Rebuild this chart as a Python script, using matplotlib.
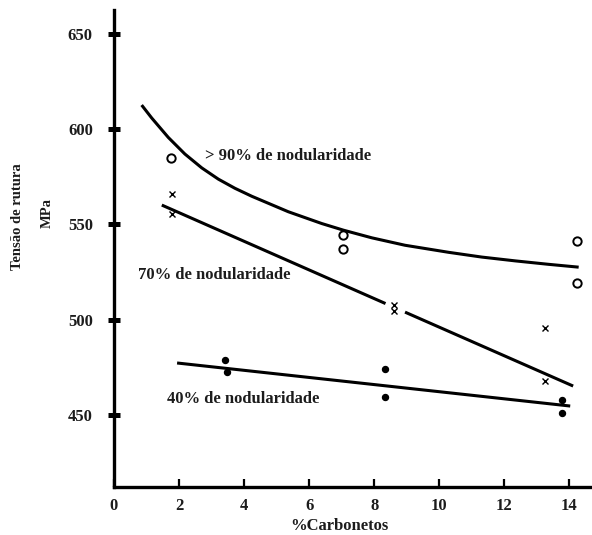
import matplotlib
matplotlib.use("Agg")
import matplotlib.pyplot as plt

# data
x_90 = [1.74, 7.04, 7.04, 14.24, 14.24]
y_90 = [585.1, 544.5, 537.0, 541.5, 519.1]
x_70 = [1.77, 1.77, 8.6, 8.6, 13.26, 13.26]
y_70 = [566.0, 555.5, 507.5, 504.5, 495.8, 467.9]
x_40 = [3.42, 3.48, 8.34, 8.34, 13.78, 13.78]
y_40 = [478.9, 472.6, 474.1, 459.4, 457.9, 451.0]

# trend lines
curve90_x = [0.85, 1.16, 1.67, 2.18, 2.70, 3.21, 3.72, 4.24, 5.36, 6.39, 7.06, 7.93, 8.95,
             10.29, 11.31, 12.34, 13.36, 14.29]
curve90_y = [612.7, 605.9, 595.7, 587.0, 579.7, 573.8, 569.0, 564.8, 556.7, 550.5, 547.0, 543.0, 539.1,
             535.4, 532.9, 530.9, 529.1, 527.6]
line70_a_x = [1.47, 8.35]
line70_a_y = [560.2, 508.5]
line70_b_x = [8.95, 14.12]
line70_b_y = [504.0, 465.2]
line40_x = [1.94, 14.03]
line40_y = [477.3, 454.7]

x_ticks = [0, 2, 4, 6, 8, 10, 12, 14]
y_ticks = [450, 500, 550, 600, 650]

ink = "#1c1c1c"
serif = "Liberation Serif"

fig = plt.figure(figsize=(5.92, 5.35), dpi=100)
ax = fig.add_axes([114 / 592, 48 / 535, 1 - 114 / 592, 477 / 535])

ax.plot(curve90_x, curve90_y, color="black", lw=2.2, solid_capstyle="butt", solid_joinstyle="round")
ax.plot(line70_a_x, line70_a_y, color="black", lw=2.2, solid_capstyle="butt")
ax.plot(line70_b_x, line70_b_y, color="black", lw=2.2, solid_capstyle="butt")
ax.plot(line40_x, line40_y, color="black", lw=2.2, solid_capstyle="butt")

ax.plot(x_90, y_90, "o", ms=6, mfc="white", mec="black", mew=1.4)
ax.plot(x_70, y_70, "x", ms=4.5, color="black", mew=1.0)
ax.plot(x_40, y_40, "o", ms=4.3, color="black")

txt = dict(fontfamily=serif, fontweight="bold", fontsize=12, color=ink, va="center")
ax.text(2.8, 586.0, "> 90% de nodularidade", **txt)
ax.text(0.75, 523.5, "70% de nodularidade", **txt)
ax.text(1.62, 458.2, "40% de nodularidade", **txt)

ax.set_xlim(0, 14.7)
ax.set_ylim(412.2, 662.6)
ax.set_xticks(x_ticks)
ax.set_yticks(y_ticks)
ax.set_xticklabels([str(v) for v in x_ticks], fontfamily=serif, fontweight="bold", fontsize=12, color=ink)
ax.set_yticklabels([str(v) for v in y_ticks], fontfamily=serif, fontweight="bold", fontsize=12, color=ink)
ax.tick_params(axis="x", direction="in", length=6, width=1.6, pad=8)
ax.tick_params(axis="y", direction="inout", length=8.5, width=3.6, pad=11)

for side in ["top", "right"]:
    ax.spines[side].set_visible(False)
for side in ["left", "bottom"]:
    ax.spines[side].set_linewidth(2.4)
ax.patch.set_visible(False)

fig.text(339 / 592, 1 - 526 / 535, "%Carbonetos", ha="center", va="center",
         fontfamily=serif, fontweight="bold", fontsize=12, color=ink)
fig.text(18 / 592, 1 - 217 / 535, "Tensão de rutura", ha="center", va="center", rotation=90,
         fontfamily=serif, fontweight="bold", fontsize=10.5, color=ink)
fig.text(47 / 592, 1 - 213 / 535, "MPa", ha="center", va="center", rotation=90,
         fontfamily=serif, fontweight="bold", fontsize=10.5, color=ink)

fig.savefig("out.png", dpi=100)
